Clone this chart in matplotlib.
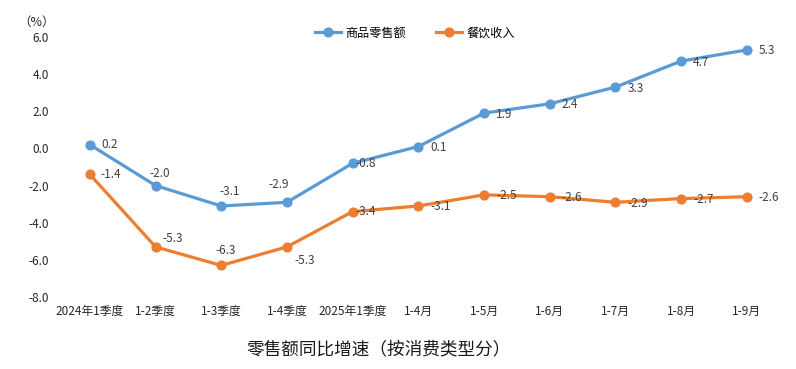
import matplotlib
matplotlib.use("Agg")
import matplotlib.pyplot as plt

plt.rcParams["font.family"] = ["Noto Sans CJK SC", "DejaVu Sans"]

categories = ["2024年1季度", "1-2季度", "1-3季度", "1-4季度", "2025年1季度",
              "1-4月", "1-5月", "1-6月", "1-7月", "1-8月", "1-9月"]
goods = [0.2, -2.0, -3.1, -2.9, -0.8, 0.1, 1.9, 2.4, 3.3, 4.7, 5.3]
catering = [-1.4, -5.3, -6.3, -5.3, -3.4, -3.1, -2.5, -2.6, -2.9, -2.7, -2.6]
yticks = [6.0, 4.0, 2.0, 0.0, -2.0, -4.0, -6.0, -8.0]

# label placement in pixels relative to each point: (dx, dy, ha)
goods_off = [(12, 0, "left"), (4, 12, "center"), (8, 14, "center"), (-8, 18, "center"),
             (3, 0, "left")] + [(12, -1, "left")] * 6
catering_off = [(11, 0, "left"), (7, 8, "left"), (4, 15, "center"), (7, -14, "left"),
                (3, 0, "left")] + [(12, -1, "left")] * 6

BLUE = "#5B9BD5"
ORANGE = "#ED7D31"
LABEL = "#404040"

fig = plt.figure(figsize=(7.96, 3.69), dpi=100)
ax = fig.add_axes([0.0716, 0.195, 0.908, 0.705])

x = list(range(len(categories)))
ax.plot(x, goods, color=BLUE, lw=2.3, marker="o", ms=6.3, label="商品零售额")
ax.plot(x, catering, color=ORANGE, lw=2.3, marker="o", ms=6.3, label="餐饮收入")

for series, offs in ((goods, goods_off), (catering, catering_off)):
    for i, v in enumerate(series):
        dx, dy, ha = offs[i]
        ax.annotate(f"{v:.1f}", (i, v), xytext=(dx, dy), textcoords="offset pixels",
                    ha=ha, va="center", fontsize=8.5, color=LABEL)

ax.set_xlim(-0.5, len(categories) - 0.5)
ax.set_ylim(-8, 6)
ax.set_yticks(yticks)
ax.set_yticklabels([f"{t:.1f}" for t in yticks])
ax.set_xticks(x)
ax.set_xticklabels(categories)
ax.tick_params(axis="both", length=0, labelsize=8.5, colors="#262626")
ax.tick_params(axis="y", pad=6)
ax.tick_params(axis="x", pad=6)
for s in ax.spines.values():
    s.set_visible(False)

fig.text(37 / 796, 1 - 22 / 369, "（%）", ha="center", va="center", fontsize=9, color="#262626")

fig.legend(loc="center", bbox_to_anchor=(0.521, 0.9106), ncol=2, frameon=False,
           fontsize=8.7, handlelength=2.2, handletextpad=0.3, columnspacing=2.5)

fig.text(379 / 796, 1 - 349 / 369, "零售额同比增速（按消费类型分）",
         ha="center", va="center", fontsize=12.7, color="#1a1a1a")

fig.savefig("out.png", dpi=100)
